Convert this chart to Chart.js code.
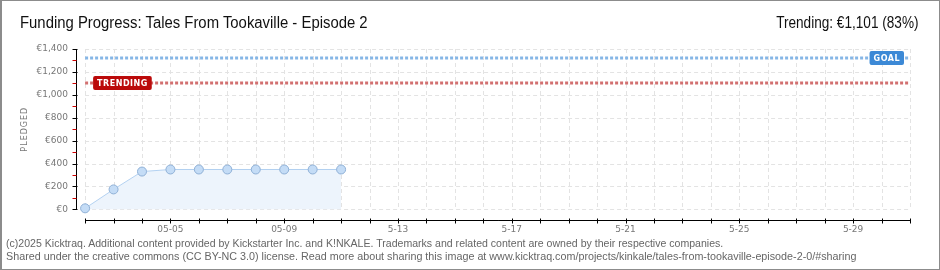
<!DOCTYPE html>
<html>
<head>
<meta charset="utf-8">
<script src="https://cdn.jsdelivr.net/npm/chart.js@4.4.1/dist/chart.umd.min.js"></script>
<style>
  body { margin: 0; background: #fff; }
  #wrap { position: relative; width: 940px; height: 270px; box-sizing: border-box;
          border: 1px solid #8c8c8c; border-left-width: 2px; overflow: hidden; }
  #chart { position: absolute; left: -2px; top: -1px; }
  .txt { position: absolute; white-space: nowrap; font-family: "Liberation Sans", sans-serif; }
  #title { left: 18px; top: 13px; font-size: 16px; color: #111; transform: scaleX(0.93); transform-origin: left; }
  #trend { right: 20px; top: 13px; font-size: 16px; color: #111; transform: scaleX(0.85); transform-origin: right; }
  .foot { left: 4px; font-size: 11px; line-height: 13px; color: #666; transform-origin: left; }
  #foot1 { top: 236px; transform: scaleX(0.96); }
  #foot2 { top: 249px; transform: scaleX(0.978); }
</style>
</head>
<body>
<div id="wrap">
  <canvas id="chart" width="940" height="270"></canvas>
  <div class="txt" id="title">Funding Progress: Tales From Tookaville - Episode 2</div>
  <div class="txt" id="trend">Trending: €1,101 (83%)</div>
  <div class="txt foot" id="foot1">(c)2025 Kicktraq. Additional content provided by Kickstarter Inc. and K!NKALE. Trademarks and related content are owned by their respective companies.</div>
  <div class="txt foot" id="foot2">Shared under the creative commons (CC BY-NC 3.0) license. Read more about sharing this image at www.kicktraq.com/projects/kinkale/tales-from-tookaville-episode-2-0/#sharing</div>
</div>
<script>
// days 05-02 .. 05-31
const days = ['05-02','05-03','05-04','05-05','05-06','05-07','05-08','05-09','05-10','05-11',
  '05-12','05-13','05-14','05-15','05-16','05-17','05-18','05-19','05-20','05-21',
  '05-22','05-23','05-24','05-25','05-26','05-27','05-28','05-29','05-30','05-31'];
const pledged = [9, 174, 330, 348, 348, 348, 348, 348, 348, 348];
const xTickLabels = {3: '05-05', 7: '05-09', 11: '5-13', 15: '5-17', 19: '5-21', 23: '5-25', 27: '5-29'};
const yTicks = [0, 200, 400, 600, 800, 1000, 1200, 1400];
const yMinorTicks = [100, 300, 500, 700, 900, 1100, 1300];
const goal = 1320;
const trending = 1101;

const tickFont = { family: 'DejaVu Sans', size: 9 };

// grid, axes, goal/trending lines drawn with the scales
const decor = {
  id: 'decor',
  beforeDatasetsDraw(chart) {
    const { ctx, scales: { x, y } } = chart;
    const x0 = x.getPixelForValue(0), x1 = x.getPixelForValue(days.length - 1);
    const yb = y.getPixelForValue(0), yt = y.getPixelForValue(1400);
    ctx.save();
    ctx.strokeStyle = '#e3e3e3';
    ctx.lineWidth = 1;
    ctx.setLineDash([4, 3]);
    days.forEach((d, i) => {
      const px = Math.round(x.getPixelForValue(i)) + 0.5;
      ctx.beginPath(); ctx.moveTo(px, yt); ctx.lineTo(px, yb); ctx.stroke();
    });
    yTicks.forEach(v => {
      const py = Math.round(y.getPixelForValue(v)) + 0.5;
      ctx.beginPath(); ctx.moveTo(x0, py); ctx.lineTo(x1, py); ctx.stroke();
    });
    ctx.restore();
  },
  afterDatasetsDraw(chart) {
    const { ctx, chartArea, scales: { x, y } } = chart;
    const x0 = x.getPixelForValue(0), x1 = x.getPixelForValue(days.length - 1);
    const yb = y.getPixelForValue(0), yt = y.getPixelForValue(1400);
    const ax = chartArea.left + 0.5;
    ctx.save();
    // goal + trending lines
    [[goal, '#86b6e6', '#3c89d6', 'GOAL', 'right'], [trending, '#d27070', '#bb0a0a', 'TRENDING', 'left']].forEach(([v, lc, bc, txt, side]) => {
      const py = Math.round(y.getPixelForValue(v));
      ctx.strokeStyle = lc; ctx.lineWidth = 3; ctx.setLineDash([3, 2]);
      ctx.beginPath(); ctx.moveTo(x0, py); ctx.lineTo(x1, py); ctx.stroke();
      ctx.setLineDash([]);
      ctx.font = 'bold 8px "DejaVu Sans"';
      ctx.letterSpacing = '0.5px';
      const w = ctx.measureText(txt).width + 8;
      const bx = side === 'right' ? x1 - 6 - w : x0 + 8;
      ctx.fillStyle = bc;
      ctx.beginPath(); ctx.roundRect(bx, py - 7, w, 14, 2); ctx.fill();
      ctx.fillStyle = '#fff'; ctx.textAlign = 'center'; ctx.textBaseline = 'middle';
      ctx.fillText(txt, bx + w / 2, py + 0.5);
      ctx.letterSpacing = '0px';
    });
    // y axis
    ctx.strokeStyle = '#000'; ctx.lineWidth = 1;
    ctx.beginPath(); ctx.moveTo(ax, yt); ctx.lineTo(ax, yb); ctx.stroke();
    yTicks.forEach(v => {
      const py = Math.round(y.getPixelForValue(v)) + 0.5;
      ctx.beginPath(); ctx.moveTo(ax - 4, py); ctx.lineTo(ax + 1, py); ctx.stroke();
    });
    ctx.strokeStyle = '#d00000';
    yMinorTicks.forEach(v => {
      const py = Math.round(y.getPixelForValue(v)) + 0.5;
      ctx.beginPath(); ctx.moveTo(ax - 4, py); ctx.lineTo(ax, py); ctx.stroke();
    });
    // x axis
    const ay = chartArea.bottom + 0.5;
    ctx.strokeStyle = '#000';
    ctx.beginPath(); ctx.moveTo(x0, ay); ctx.lineTo(x1 + 1, ay); ctx.stroke();
    days.forEach((d, i) => {
      const px = Math.round(x.getPixelForValue(i)) + 0.5;
      ctx.beginPath(); ctx.moveTo(px, ay - 2); ctx.lineTo(px, ay + 3); ctx.stroke();
    });
    // axis title
    ctx.translate(25, (yt + yb) / 2);
    ctx.rotate(-Math.PI / 2);
    ctx.font = '8px "DejaVu Sans"';
    ctx.letterSpacing = '1px';
    ctx.fillStyle = '#777'; ctx.textAlign = 'center'; ctx.textBaseline = 'middle';
    ctx.fillText('PLEDGED', 0, 0);
    ctx.restore();
  }
};

new Chart(document.getElementById('chart'), {
  type: 'line',
  data: {
    datasets: [{
      data: pledged.map((v, i) => ({ x: i, y: v })),
      borderColor: '#b3d1f1',
      borderWidth: 1,
      backgroundColor: '#edf4fc',
      fill: 'origin',
      pointRadius: 4.5,
      pointBackgroundColor: '#c4dcf6',
      pointBorderColor: '#8fb0d6',
      pointBorderWidth: 1,
      tension: 0
    }]
  },
  options: {
    responsive: false,
    animation: false,
    layout: { padding: { top: 49, right: 30, left: 0, bottom: 0 } },
    plugins: { legend: { display: false }, tooltip: { enabled: false } },
    scales: {
      x: {
        type: 'linear',
        min: -0.32, max: days.length - 1,
        afterBuildTicks: s => { s.ticks = Object.keys(xTickLabels).map(k => ({ value: +k })); },
        afterFit: s => { s.height = 50; },
        grid: { display: false, drawTicks: false },
        border: { display: false },
        ticks: { font: tickFont, color: '#777', padding: 4, maxRotation: 0, autoSkip: false,
                 callback: v => xTickLabels[v] || '' }
      },
      y: {
        min: -93, max: 1400,
        afterBuildTicks: s => { s.ticks = yTicks.map(v => ({ value: v })); },
        afterFit: s => { s.width = 76; },
        grid: { display: false, drawTicks: false },
        border: { display: false },
        ticks: { font: tickFont, color: '#777', padding: 8,
                 callback: v => '€' + v.toLocaleString('en-US') }
      }
    }
  },
  plugins: [decor]
});
</script>
</body>
</html>
